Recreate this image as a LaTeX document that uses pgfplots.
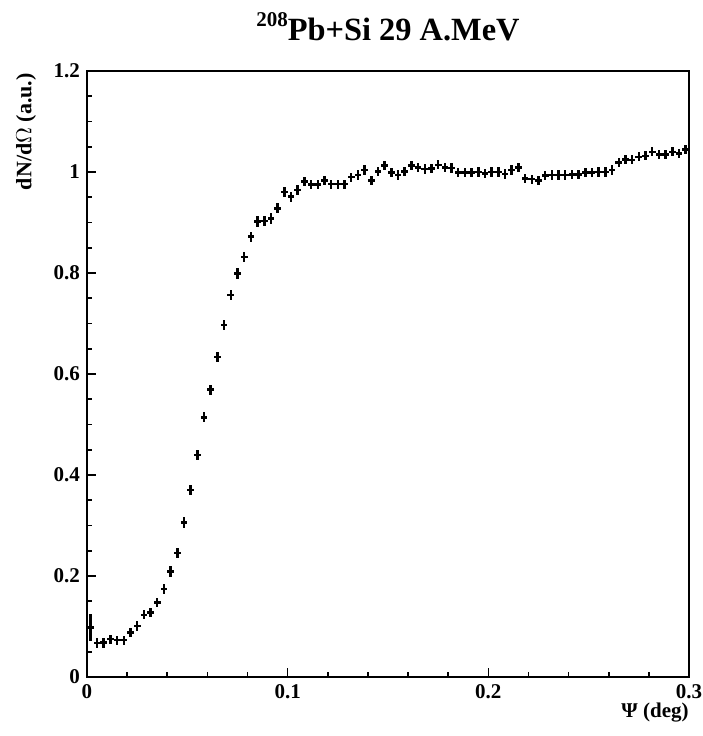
\documentclass[border=0pt]{standalone}
\usepackage{fontspec}
\setmainfont{Liberation Serif}
\usepackage{pgfplots}
\usepackage{pgfplotstable}
\pgfplotsset{compat=1.18}
\pgfplotstableread{
x y ey
0.001667 0.098 0.026
0.005 0.067 0.010
0.008333 0.068 0.010
0.011667 0.075 0.009
0.015 0.073 0.009
0.018333 0.073 0.009
0.021667 0.088 0.009
0.025 0.101 0.009
0.028333 0.123 0.009
0.031667 0.128 0.009
0.035 0.148 0.009
0.038333 0.174 0.010
0.041667 0.209 0.010
0.045 0.246 0.010
0.048333 0.306 0.010
0.051667 0.370 0.010
0.055 0.440 0.010
0.058333 0.514 0.010
0.061667 0.569 0.010
0.065 0.634 0.010
0.068333 0.697 0.010
0.071667 0.756 0.010
0.075 0.799 0.010
0.078333 0.832 0.010
0.081667 0.872 0.010
0.085 0.902 0.010
0.088333 0.903 0.010
0.091667 0.908 0.010
0.095 0.928 0.010
0.098333 0.960 0.010
0.101667 0.951 0.010
0.105 0.964 0.010
0.108333 0.981 0.009
0.111667 0.975 0.009
0.115 0.975 0.009
0.118333 0.983 0.009
0.121667 0.976 0.009
0.125 0.976 0.009
0.128333 0.976 0.009
0.131667 0.990 0.009
0.135 0.994 0.009
0.138333 1.004 0.009
0.141667 0.983 0.009
0.145 1.001 0.009
0.148333 1.013 0.009
0.151667 0.999 0.009
0.155 0.994 0.009
0.158333 1.001 0.009
0.161667 1.013 0.009
0.165 1.009 0.009
0.168333 1.006 0.009
0.171667 1.007 0.009
0.175 1.014 0.009
0.178333 1.009 0.009
0.181667 1.008 0.009
0.185 0.999 0.009
0.188333 0.999 0.009
0.191667 0.999 0.009
0.195 1.000 0.009
0.198333 0.997 0.009
0.201667 1.000 0.009
0.205 1.000 0.009
0.208333 0.996 0.009
0.211667 1.004 0.009
0.215 1.009 0.009
0.218333 0.987 0.009
0.221667 0.986 0.009
0.225 0.983 0.009
0.228333 0.993 0.009
0.231667 0.994 0.009
0.235 0.994 0.009
0.238333 0.994 0.009
0.241667 0.995 0.009
0.245 0.995 0.009
0.248333 0.999 0.009
0.251667 0.999 0.009
0.255 1.000 0.009
0.258333 1.000 0.009
0.261667 1.004 0.009
0.265 1.019 0.009
0.268333 1.025 0.009
0.271667 1.024 0.009
0.275 1.030 0.009
0.278333 1.032 0.009
0.281667 1.040 0.009
0.285 1.035 0.009
0.288333 1.035 0.009
0.291667 1.040 0.009
0.295 1.037 0.009
0.298333 1.045 0.009
}\datatable
\begin{document}
\begin{tikzpicture}
\path[use as bounding box] (0,0) rectangle (351.5pt,368pt);
\begin{axis}[
  at={(43.5pt,29.5pt)}, anchor=south west,
  scale only axis,
  width=301pt, height=303pt,
  xmin=0, xmax=0.3, ymin=0, ymax=1.2,
  xtick={0,0.1,0.2,0.3},
  ytick={0,0.2,0.4,0.6,0.8,1,1.2},
  minor x tick num=4,
  minor y tick num=3,
  tick pos=left,
  tick align=inside,
  major tick length=4.5pt,
  minor tick length=2.5pt,
  every tick/.style={black, line width=0.8pt},
  axis line style={line width=1pt},
  /pgf/number format/assume math mode=true,
  ticklabel style={font=\fontsize{10.5}{12}\selectfont\bfseries},
  xticklabel style={/pgf/number format/fixed},
  yticklabel style={/pgf/number format/fixed},
  scaled x ticks=false,
  clip=false,
]
\addplot[draw=none, mark=none, forget plot,
  error bars/.cd,
    x dir=both, x fixed=0.001667,
    y dir=both, y explicit,
    error mark=none,
    error bar style={draw=black, line width=1.25pt}]
  table[x=x, y=y, y error=ey]{\datatable};
\path (rel axis cs:0.5,1) ++(0,15.5pt) node[anchor=base, inner sep=0pt, font=\fontsize{16.2}{19}\selectfont\bfseries]
  {\raisebox{7pt}{\fontsize{10.5}{12}\selectfont 208}Pb+Si 29 A.MeV};
\path (rel axis cs:0,1) ++(-30.5pt,-1pt) node[rotate=90, anchor=east, inner sep=0pt, font=\fontsize{11}{13}\selectfont\bfseries]
  {dN/d$\Omega$ (a.u.)};
\path (rel axis cs:1,0) ++(0,-20pt) node[anchor=base east, inner sep=0pt, font=\fontsize{10.5}{12}\selectfont\bfseries]
  {Ψ (deg)};
\end{axis}
\end{tikzpicture}
\end{document}
